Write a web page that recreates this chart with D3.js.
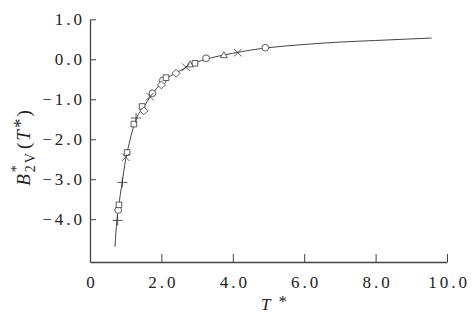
<!DOCTYPE html>
<html>
<head>
<meta charset="utf-8">
<script src="https://cdn.jsdelivr.net/npm/d3@7"></script>
<style>
  body { margin: 0; background: #fff; }
  text { font-family: "Liberation Serif", "DejaVu Serif", serif; fill: #222; }
</style>
</head>
<body>
<div id="content"></div>
<script>
// curve
const curveT = [0.70, 0.75, 0.80, 0.90, 1.0, 1.1, 1.2, 1.3, 1.5, 1.75, 2.0, 2.25, 2.5, 2.75, 3.0, 3.5, 4.0, 4.5, 5.0, 6.0, 7.0, 8.0, 9.0, 9.57];
const curveB = [-4.69, -4.05, -3.70, -3.08, -2.50, -2.10, -1.75, -1.48, -1.20, -0.86, -0.60, -0.42, -0.30, -0.17, -0.07, 0.06, 0.15, 0.23, 0.29, 0.37, 0.43, 0.47, 0.51, 0.53];

// measured points, one list per marker
const circleT = [4.91, 3.25, 2.04, 1.75, 0.79];
const circleB = [0.29, 0.025, -0.53, -0.85, -3.77];
const squareT = [2.94, 2.13, 1.46, 1.23, 1.04, 0.81];
const squareB = [-0.10, -0.46, -1.18, -1.62, -2.33, -3.64];
const diamondT = [2.41, 2.0, 1.51];
const diamondB = [-0.35, -0.64, -1.29];
const triangleT = [3.75, 2.80];
const triangleB = [0.09, -0.14];
const timesT = [4.14, 2.69, 1.68, 1.0];
const timesB = [0.165, -0.20, -0.93, -2.45];
const plusT = [1.29, 0.905, 0.775];
const plusB = [-1.47, -3.08, -4.03];

const xTicks = [0, 2, 4, 6, 8, 10];
const yTicks = [1, 0, -1, -2, -3, -4];

const width = 472, height = 317;

const svg = d3.select("#content")
  .append("svg")
  .attr("width", width)
  .attr("height", height);

const x = d3.scaleLinear().domain([0, 10]).range([90, 447]);
const y = d3.scaleLinear().domain([-5.07, 1]).range([262, 19.3]);

// y axis
const gy = svg.append("g")
  .attr("transform", `translate(${x(0)},0)`)
  .call(d3.axisLeft(y).tickValues(yTicks).tickSizeInner(-6).tickSizeOuter(0).tickPadding(5)
    .tickFormat(d => d3.format(".1f")(d).replace("-", "\u2212")));

// x axis
const gx = svg.append("g")
  .attr("transform", `translate(0,${y(-5.07)})`)
  .call(d3.axisBottom(x).tickValues(xTicks).tickSizeInner(-8).tickSizeOuter(0).tickPadding(14)
    .tickFormat(d => d === 0 ? "0" : d3.format(".1f")(d)));

[gx, gy].forEach(g => {
  g.select(".domain").attr("stroke", "#444").attr("stroke-width", 1.3);
  g.selectAll(".tick line").attr("stroke", "#444").attr("stroke-width", 1);
  g.selectAll(".tick text")
    .attr("fill", "#222")
    .style("font-family", "'Liberation Serif', serif")
    .style("font-size", "17px")
    .style("letter-spacing", "3px");
});
gx.selectAll(".tick text").attr("dx", "1.5px");

// the curve
const line = d3.line()
  .x(d => x(d[0]))
  .y(d => y(d[1]))
  .curve(d3.curveMonotoneX);

svg.append("path")
  .datum(curveT.map((t, i) => [t, curveB[i]]))
  .attr("d", line)
  .attr("fill", "none")
  .attr("stroke", "#444")
  .attr("stroke-width", 1);

// markers
const sets = [
  [circleT, circleB, d3.symbolCircle, 36],
  [squareT, squareB, d3.symbolSquare2 || d3.symbolSquare, 40],
  [diamondT, diamondB, d3.symbolDiamond2 || d3.symbolDiamond, 40],
  [triangleT, triangleB, d3.symbolTriangle2 || d3.symbolTriangle, 34],
  [timesT, timesB, d3.symbolTimes || d3.symbolCross, 40],
  [plusT, plusB, d3.symbolPlus || d3.symbolCross, 36]
];

sets.forEach(([ts, bs, type, size]) => {
  svg.append("g").selectAll("path")
    .data(ts.map((t, i) => [t, bs[i]]))
    .join("path")
    .attr("transform", d => `translate(${x(d[0])},${y(d[1])})`)
    .attr("d", d3.symbol().type(type).size(size))
    .attr("fill", (type === d3.symbolTimes || type === d3.symbolPlus) ? "none" : "#fff")
    .attr("stroke", "#333")
    .attr("stroke-width", 0.8);
});

// axis titles
const yt = svg.append("text")
  .attr("transform", "translate(30,147) rotate(-90)")
  .attr("text-anchor", "middle")
  .style("font-size", "19px")
  .style("letter-spacing", "2px");
yt.append("tspan").attr("font-style", "italic").text("B");
yt.append("tspan").attr("dy", -9).style("font-size", "14px").text("*");
yt.append("tspan").attr("dx", -9).attr("dy", 14).style("font-size", "14px").text("2V");
yt.append("tspan").attr("dy", -5).attr("dx", 2).text("(");
yt.append("tspan").attr("font-style", "italic").text("T");
yt.append("tspan").attr("dy", -3).text("*");
yt.append("tspan").attr("dy", 3).text(")");

const xt = svg.append("text")
  .attr("x", 274)
  .attr("y", 310)
  .attr("text-anchor", "middle")
  .style("font-size", "17px");
xt.append("tspan").attr("font-style", "italic").text("T");
xt.append("tspan").attr("dx", 8).attr("dy", -3).text("*");
</script>
</body>
</html>
